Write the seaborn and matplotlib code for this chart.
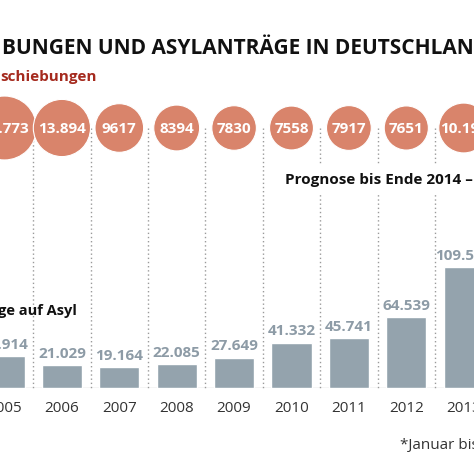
import numpy as np
import pandas as pd
import matplotlib.pyplot as plt
import seaborn as sns

# Data
years = ["2005", "2006", "2007", "2008", "2009", "2010", "2011", "2012", "2013"]
abschiebungen = [17773, 13894, 9617, 8394, 7830, 7558, 7917, 7651, 10198]
asylantraege = [28914, 21029, 19164, 22085, 27649, 41332, 45741, 64539, 109580]

title_text = "BUNGEN UND ASYLANTRÄGE IN DEUTSCHLAN"
sub_abschiebung = "schiebungen"
sub_asyl = "ge auf Asyl"
prognose_text = "Prognose bis Ende 2014 –"
footnote_text = "*Januar bis"

RED = "#d9846b"
BAR = "#94a3ad"
BAR_TXT = "#8d9ba6"
DARK_RED = "#a52a1e"

sns.set_style("white")
plt.rcParams["font.family"] = ["Open Sans", "DejaVu Sans"]


def de_fmt(v):
    if v >= 10000:
        return f"{v:,}".replace(",", ".")
    return str(v)


df = pd.DataFrame({"Jahr": years, "Abschiebungen": abschiebungen,
                   "Asyl": asylantraege})
df["pos"] = np.arange(len(df))

W, H = 474, 463
fig = plt.figure(figsize=(W / 100, H / 100), dpi=100)

# column geometry (pixels)
x0_px, step_px = 4.5, 57.4
xlim = (-x0_px / step_px, (W - x0_px) / step_px)
base_px = 388
px_per_val = 1 / 909.0
bar_ymax = 130000

# -----------------------------
# Bars (Asylanträge)
# -----------------------------
ax_bar = fig.add_axes([0, (H - base_px) / H, 1, bar_ymax * px_per_val / H])
ax_bar.axhline(0, color="#d0d0d0", lw=1, zorder=0)
sns.barplot(data=df, x="Jahr", y="Asyl", color=BAR, saturation=1,
            width=0.7, ax=ax_bar, zorder=2)
ax_bar.set_xlim(*xlim)
ax_bar.set_ylim(0, bar_ymax)
ax_bar.axis("off")
for i, v in enumerate(asylantraege):
    ax_bar.annotate(de_fmt(v), (i, v), xytext=(0, 3), textcoords="offset points",
                    ha="center", va="bottom", fontsize=11, fontweight="bold",
                    color=BAR_TXT, annotation_clip=False)

# -----------------------------
# Overlay: bubbles, texts, separators
# -----------------------------
ax = fig.add_axes([0, 0, 1, 1], zorder=3)
ax.patch.set_alpha(0)

bubble_y = 128
for i in range(len(years) - 1):
    ax.vlines(i + 0.5, bubble_y, base_px, colors="#9a9a9a", lw=1,
              linestyles=(0, (1, 2)), zorder=1)

vmin, vmax = min(abschiebungen), max(abschiebungen)
sns.scatterplot(data=df.assign(y=bubble_y), x="pos", y="y", size="Abschiebungen",
                sizes=(1000, 2120), size_norm=(vmin, vmax),
                color=RED, edgecolor="white", linewidth=0.8, legend=False,
                ax=ax, zorder=3)
ax.set_xlim(*xlim)
ax.set_ylim(H, 0)
ax.axis("off")
for i, v in enumerate(abschiebungen):
    ax.text(i, bubble_y + 1, de_fmt(v), ha="center", va="center", fontsize=11,
            fontweight="bold", color="white", zorder=4)

for i, y in enumerate(years):
    ax.text(i, 408, y, ha="center", va="center", fontsize=11, color="#333333")

ax.text(xlim[0] + 0.03, 48.5, title_text, fontsize=15, fontweight="bold",
        color="#111111", ha="left", va="center")
ax.text(xlim[0], 77, sub_abschiebung, fontsize=11, fontweight="bold",
        color=DARK_RED, ha="left", va="center")
ax.text(xlim[0] - 0.03, 311, sub_asyl, fontsize=10.5, fontweight="bold",
        color="#111111", ha="left", va="center")
ax.text((285 - x0_px) / step_px, 180, prognose_text, fontsize=11,
        fontweight="bold", color="#111111", ha="left", va="center",
        bbox=dict(facecolor="white", edgecolor="none", pad=6), zorder=5)
ax.text((400 - x0_px) / step_px, 446, footnote_text, fontsize=11,
        color="#333333", ha="left", va="center")

fig.savefig("out.png", dpi=100)
plt.close()
